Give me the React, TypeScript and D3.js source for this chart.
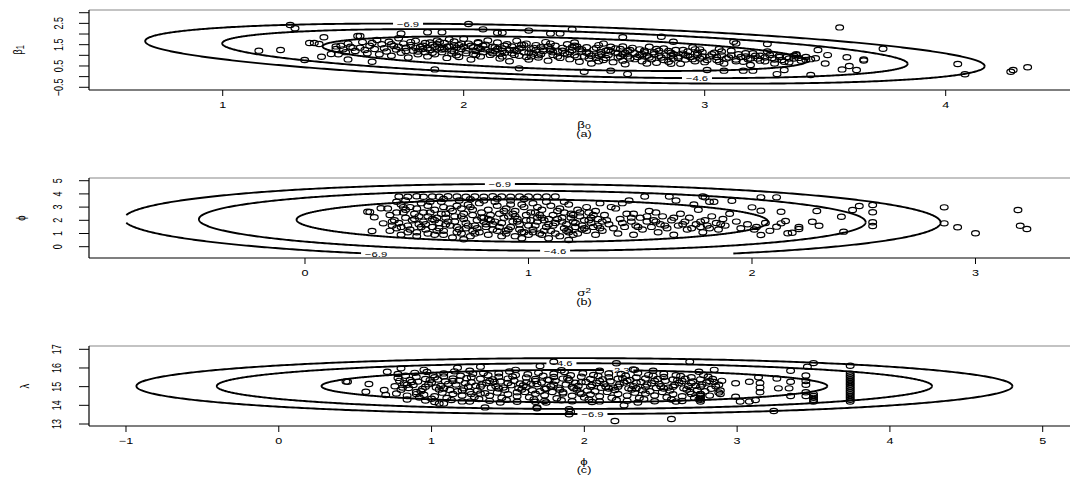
import React from 'react';
import * as d3 from 'd3';

type Pt = [number, number];

// ---------------- data ----------------
const ptsA: Pt[] = [
  [1.28,2.42],[1.30,2.27],[1.42,1.85],[1.15,1.22],[1.24,1.25],[1.34,0.78],[1.41,0.93],[1.45,1.06],[1.36,1.58],[1.38,1.58],[1.40,1.53],[1.52,0.81],[1.56,1.91],
  [2.02,2.47],[2.08,2.22],[2.27,2.16],[2.45,2.22],[1.88,0.34],[2.23,0.39],[2.50,0.23],[2.68,0.12],[2.61,0.28],[2.82,1.87],[1.62,0.70],
  [1.57,1.91],[1.74,2.03],[1.85,2.08],[1.91,2.08],[2.14,2.06],[2.16,2.06],[2.36,2.03],[2.40,2.03],[2.66,1.85],[2.87,1.64],
  [3.56,2.31],[3.74,1.31],[3.26,1.53],[3.47,1.25],[3.51,1.01],[3.59,0.91],[3.66,0.81],[3.66,0.76],[3.46,0.86],[3.50,0.62],[3.57,0.34],[3.60,0.50],[3.63,0.31],[3.44,0.08],[3.30,0.12],
  [4.05,0.59],[4.08,0.11],[4.27,0.23],[4.28,0.31],[4.34,0.44],[3.12,1.64],[3.13,1.56],[3.38,1.01],[3.42,0.78],[3.33,0.31],[3.16,0.28],[3.20,0.28],[3.01,0.31],[3.08,0.28],
  [1.47,1.30],[1.49,1.45],[1.51,1.15],[1.54,1.35],[1.48,1.05],
  [1.47,1.42],[1.50,1.28],[1.52,1.55],[1.55,1.20],[1.57,1.36],[1.58,1.62],[1.60,1.10],[1.61,1.45],[1.63,1.30],[1.64,1.72],[1.65,1.05],[1.66,1.52],[1.53,1.40],[1.59,1.25],[1.62,1.58],
  [1.67,1.33],[1.68,1.18],[1.69,1.64],[1.70,0.98],[1.71,1.44],[1.72,1.27],[1.73,1.80],[1.74,1.12],[1.75,1.55],[1.76,1.36],[1.77,0.90],[1.78,1.48],[1.79,1.22],[1.80,1.68],[1.81,1.05],[1.82,1.40],[1.83,1.30],[1.84,1.58],[1.85,0.95],[1.70,1.52],[1.76,1.20],[1.80,1.35],[1.84,1.15],[1.73,1.40],[1.78,1.62],
  [1.86,1.25],[1.87,1.50],[1.88,1.05],[1.89,1.70],[1.90,1.35],[1.91,1.15],[1.92,1.58],[1.93,0.88],[1.94,1.42],[1.95,1.22],[1.96,1.65],[1.97,1.00],[1.98,1.48],[1.99,1.30],[2.00,1.78],[2.01,1.10],[2.02,1.55],[2.03,0.80],[2.04,1.38],[2.05,1.20],[2.06,1.62],[2.07,0.95],[2.08,1.45],[2.09,1.28],[2.10,1.70],[1.88,1.40],[1.92,1.30],[1.96,1.18],[2.00,1.40],[2.04,1.05],[2.08,1.15],[1.90,1.62],[1.98,0.92],[2.06,1.35],[1.94,1.75],
  [2.11,1.02],[2.12,1.40],[2.13,1.22],[2.14,1.60],[2.15,0.85],[2.16,1.32],[2.17,1.12],[2.18,1.52],[2.19,0.72],[2.20,1.42],[2.21,1.25],[2.22,1.68],[2.23,0.98],[2.24,1.35],[2.25,1.15],[2.26,1.55],[2.27,0.80],[2.28,1.28],[2.29,1.08],[2.30,1.48],[2.31,0.90],[2.32,1.38],[2.33,1.20],[2.34,1.62],[2.35,0.75],[2.36,1.30],[2.37,1.02],[2.38,1.45],[2.39,1.18],[2.40,0.88],[2.12,1.10],[2.16,0.95],[2.20,1.10],[2.24,1.50],[2.28,0.95],[2.32,1.05],[2.36,1.55],[2.14,1.30],[2.22,1.20],[2.30,1.25],
  [2.41,1.35],[2.42,1.10],[2.43,1.52],[2.44,0.82],[2.45,1.25],[2.46,1.00],[2.47,1.42],[2.48,0.70],[2.49,1.18],[2.50,0.95],[2.51,1.38],[2.52,1.08],[2.53,0.62],[2.54,1.28],[2.55,0.88],[2.56,1.48],[2.57,1.15],[2.58,0.78],[2.59,1.22],[2.60,1.02],[2.61,1.40],[2.62,0.68],[2.63,1.12],[2.64,0.90],[2.65,1.30],[2.66,1.05],[2.67,0.58],[2.68,1.20],[2.69,0.85],[2.70,1.35],[2.44,1.15],[2.48,1.30],[2.52,0.85],[2.56,1.00],[2.60,1.25],[2.64,1.10],[2.68,0.95],[2.46,1.60],[2.58,1.55],[2.66,0.75],
  [2.71,1.10],[2.72,0.92],[2.73,1.28],[2.74,0.72],[2.75,1.15],[2.76,0.98],[2.77,1.40],[2.78,0.82],[2.79,1.05],[2.80,0.65],[2.81,1.22],[2.82,0.90],[2.83,1.32],[2.84,1.00],[2.85,0.70],[2.86,1.12],[2.87,0.85],[2.88,1.25],[2.89,0.95],[2.90,0.60],[2.91,1.08],[2.92,0.80],[2.93,1.18],[2.94,0.92],[2.95,1.38],[2.96,0.72],[2.97,1.02],[2.98,0.85],[2.99,1.15],[3.00,0.68],[2.74,1.05],[2.80,1.30],[2.86,0.98],[2.92,1.00],[2.98,1.28],
  [3.02,0.95],[3.04,1.12],[3.05,0.78],[3.07,1.00],[3.08,0.62],[3.10,0.90],[3.11,1.22],[3.13,0.80],[3.14,1.05],[3.16,0.70],[3.17,0.95],[3.19,0.55],[3.20,1.10],[3.22,0.85],[3.23,0.98],[3.25,0.72],[3.26,1.18],[3.28,0.88],[3.29,0.62],[3.31,1.00],[3.32,0.78],[3.34,0.92],[3.35,0.68],[3.37,0.85],[3.38,1.05],[3.40,0.75],[3.42,0.92],[3.44,0.82],[3.06,1.30],[3.18,0.82],
  [1.81,1.18],[1.83,1.45],[1.85,1.33],[1.87,1.12],[1.89,1.52],[1.91,1.27],[1.93,1.40],[1.95,1.08],[1.97,1.35],[1.99,1.55],[2.01,1.22],[2.03,1.45],[2.05,1.02],[2.07,1.30],[2.09,1.50],[2.11,1.18],[2.13,1.38],[2.15,1.08],[2.17,1.45],[2.19,1.25],[2.21,1.02],[2.23,1.32],[2.25,1.48],[2.27,1.12],[2.29,1.35],[2.31,1.00],[2.33,1.28],[2.35,1.42],[2.37,1.15],[2.39,0.95],
  [2.41,1.22],[2.43,1.05],[2.45,1.38],[2.47,0.92],[2.49,1.28],[2.51,1.12],[2.53,0.98],[2.55,1.35],[2.57,1.05],[2.59,0.88],[2.61,1.18],[2.63,1.32],[2.65,0.95],[2.67,1.12],[2.69,1.25],[2.71,0.82],[2.73,1.02],[2.75,1.22],[2.77,0.90],[2.79,1.15],[2.81,0.98],[2.83,0.78],[2.85,1.20],[2.87,1.05],[2.89,0.88],[2.91,1.25],[2.93,0.98],[2.95,0.82],[2.97,1.12],[2.99,0.95],
  [3.01,0.78],[3.03,1.05],[3.05,0.92],[3.07,1.18],[3.09,0.85],[3.11,1.00],[3.13,0.72],[3.15,0.92],[3.17,1.10],[3.19,0.85],[3.21,0.98],[3.23,0.75],[3.25,0.90],[3.27,1.02],[3.29,0.80],[3.31,0.92],[3.33,0.70],[3.35,0.85],[3.37,0.98],[3.39,0.88],
  [1.86,1.60],[1.96,1.48],[2.06,1.58],[2.16,1.20],[2.26,0.92],[2.36,1.22],[2.46,1.45],[2.56,0.72],[2.66,1.42],[2.76,0.62],[2.86,0.60],[2.96,1.28],[3.06,0.70]
];

const ptsB: Pt[] = [
  [0.42,3.80],[0.46,3.78],[0.50,3.82],[0.53,3.79],[0.57,3.81],[0.60,3.78],[0.64,3.82],[0.68,3.80],[0.72,3.79],[0.76,3.81],[0.80,3.78],[0.84,3.82],[0.88,3.80],[0.92,3.79],[0.96,3.81],[1.00,3.80],[1.04,3.78],[1.08,3.81],[1.12,3.80],[0.62,3.62],[0.74,3.60],[0.86,3.64],[0.98,3.61],
  [0.38,1.2],[0.40,2.0],[0.37,2.9],[0.39,1.6],[0.41,3.4],[0.38,2.4],
  [0.43,0.9],[0.42,1.8],[0.44,2.6],[0.43,3.2],[0.41,1.4],[0.45,2.2],
  [0.46,1.1],[0.48,2.0],[0.47,3.0],[0.46,1.6],[0.49,2.5],[0.45,3.5],
  [0.50,0.8],[0.52,1.5],[0.51,2.3],[0.50,2.9],[0.53,1.9],[0.52,3.3],
  [0.55,1.0],[0.54,1.7],[0.56,2.6],[0.55,3.1],[0.57,2.1],[0.54,1.3],
  [0.58,0.9],[0.60,1.4],[0.59,2.2],[0.58,2.8],[0.61,3.4],[0.60,1.8],
  [0.62,1.2],[0.64,1.9],[0.63,2.5],[0.62,3.0],[0.65,1.6],[0.63,2.2],
  [0.66,0.7],[0.68,1.5],[0.67,2.3],[0.66,2.7],[0.69,3.5],[0.68,1.1],
  [0.70,1.0],[0.72,1.8],[0.71,2.1],[0.70,2.9],[0.73,3.2],[0.72,1.4],
  [0.74,0.8],[0.76,1.6],[0.75,2.4],[0.74,3.0],[0.77,2.0],[0.75,1.2],
  [0.78,1.1],[0.80,1.9],[0.79,2.6],[0.78,3.3],[0.81,1.5],[0.80,2.2],
  [0.82,0.9],[0.84,1.3],[0.83,2.0],[0.82,2.8],[0.85,3.4],[0.84,1.7],
  [0.86,1.2],[0.88,1.8],[0.87,2.5],[0.86,3.1],[0.89,2.2],[0.88,0.8],
  [0.90,1.0],[0.92,1.5],[0.91,2.3],[0.90,2.9],[0.93,1.9],[0.92,3.5],
  [0.94,0.8],[0.96,1.7],[0.95,2.1],[0.94,2.7],[0.97,3.2],[0.96,1.3],
  [0.98,1.1],[1.00,1.6],[0.99,2.4],[0.98,3.0],[1.01,2.0],[1.00,0.9],
  [1.02,1.3],[1.04,1.9],[1.03,2.6],[1.02,3.3],[1.05,1.0],[1.04,2.2],
  [1.06,0.9],[1.08,1.5],[1.07,2.0],[1.06,2.8],[1.09,1.7],[1.08,3.4],
  [1.10,1.2],[1.12,1.8],[1.11,2.4],[1.10,3.1],[1.13,2.1],[1.12,1.0],
  [1.14,0.8],[1.16,1.4],[1.15,2.2],[1.14,2.9],[1.17,1.7],[1.16,2.6],
  [1.18,1.1],[1.20,1.9],[1.19,2.5],[1.18,3.2],[1.21,1.5],[1.20,0.9],
  [1.22,1.0],[1.24,1.6],[1.23,2.3],[1.22,2.8],[1.25,2.0],[1.24,1.3],
  [1.26,1.2],[1.28,1.8],[1.27,2.6],[1.26,3.0],[1.29,1.5],[1.28,2.2],
  [1.30,0.9],[1.32,1.4],[1.31,2.1],[1.30,2.7],[1.33,1.9],[1.32,3.3],
  [0.39,1.9],[0.41,2.6],[0.43,1.5],[0.45,2.8],[0.47,1.3],[0.49,2.1],[0.51,1.7],[0.53,2.6],[0.55,2.3],[0.57,1.5],[0.59,1.2],[0.61,2.5],[0.63,1.7],[0.65,2.9],[0.67,1.9],[0.69,1.3],[0.71,2.5],[0.73,1.6],[0.75,2.8],[0.77,1.4],
  [0.79,2.2],[0.81,1.7],[0.83,2.4],[0.85,1.9],[0.87,1.5],[0.89,2.7],[0.91,1.3],[0.93,2.5],[0.95,1.9],[0.97,1.1],[0.99,2.0],[1.01,2.6],[1.03,1.6],[1.05,2.4],[1.07,1.2],[1.09,2.1],[1.11,1.6],[1.13,2.7],[1.15,1.9],[1.17,1.2],
  [1.19,2.2],[1.21,1.8],[1.23,2.6],[1.25,1.4],[1.27,2.0],[1.29,2.4],[1.31,1.6],[0.44,3.0],[0.56,3.4],[0.68,3.1],[0.80,3.5],[0.92,3.2],[1.04,3.0],[1.16,3.4],[0.50,1.1],[0.62,0.9],[0.76,1.0],[0.90,1.2],[1.02,1.1],[1.18,1.3],
  [0.58,2.0],[0.70,2.3],[0.82,2.1],[0.94,2.3],[1.06,2.2],[1.20,2.4],[1.35,2.0],[1.38,1.4],[1.42,1.8],[1.46,2.2],[1.49,1.5],[1.53,2.3],[1.57,1.9],[1.61,1.6],[1.65,2.2],[1.69,1.7],[1.73,1.4],[1.77,1.9],[1.81,1.4],[1.86,1.7],
  [1.33,1.2],[1.34,2.4],[1.36,1.7],[1.37,3.0],[1.39,2.9],[1.40,1.0],[1.41,2.1],[1.42,3.3],[1.43,1.5],[1.44,2.5],[1.45,3.5],[1.46,1.9],[1.47,2.5],[1.47,0.9],[1.48,1.6],[1.50,2.2],[1.51,1.3],[1.52,3.8],[1.53,1.9],[1.54,2.7],[1.55,1.5],[1.56,2.0],[1.57,2.6],[1.58,1.1],[1.59,1.7],[1.60,2.3],[1.62,1.4],[1.63,3.8],[1.64,2.0],[1.65,0.9],[1.66,3.5],[1.67,1.6],[1.68,2.5],[1.70,1.9],[1.71,1.3],[1.72,2.2],[1.74,3.2],[1.75,1.7],[1.76,2.8],[1.77,1.5],[1.78,1.1],[1.78,3.8],[1.79,2.0],[1.80,1.6],[1.81,3.4],[1.82,2.3],[1.84,1.8],[1.85,1.3],[1.87,2.1],[1.88,1.6],[1.90,2.5],
  [1.91,3.48],[1.93,1.9],[1.95,1.4],[1.98,1.7],[2.00,2.98],[2.01,1.3],[2.02,1.5],[2.04,3.74],[2.04,2.73],[2.04,0.89],[2.06,1.8],[2.08,1.2],[2.11,3.74],[2.11,1.52],[2.13,2.65],[2.13,1.77],[2.15,1.95],[2.16,1.02],[2.18,1.06],[2.21,1.49],[2.21,1.34],[2.27,1.89],[2.29,2.7],[2.30,1.59],[2.40,2.27],[2.41,1.14],[2.45,2.78],[2.48,3.08],[2.54,3.16],[2.54,2.61],[2.54,1.85],[2.54,1.57],[1.79,3.74],[1.83,3.41],
  [2.86,2.98],[2.86,1.77],[2.92,1.47],[3.00,1.02],[3.19,2.78],[3.20,1.59],[3.23,1.34],
  [0.28,2.65],[0.29,2.63],[0.34,2.91],[0.31,2.23],[0.30,1.19],[0.35,1.77],[0.71,0.56],[0.97,0.64],[1.09,0.64],[1.18,0.51]
];

const ptsC: Pt[] = [
  [0.76,15.02],[0.78,15.47],[0.77,14.63],[0.79,15.31],[0.80,14.84],[0.78,15.68],
  [0.82,15.18],[0.84,14.52],[0.83,15.58],[0.85,14.93],[0.86,15.36],[0.84,14.31],
  [0.88,15.09],[0.90,14.71],[0.89,15.74],[0.91,15.27],[0.92,14.42],[0.90,15.52],
  [0.94,14.88],[0.96,15.41],[0.95,14.57],[0.97,15.79],[0.98,15.13],[0.96,14.26],
  [1.00,15.22],[1.02,14.49],[1.01,15.63],[1.03,14.96],[1.04,15.38],[1.02,14.18],
  [1.06,15.04],[1.08,15.71],[1.07,14.68],[1.09,15.29],[1.10,14.39],[1.08,15.55],
  [1.12,14.82],[1.14,15.44],[1.13,14.28],[1.15,15.82],[1.16,15.11],[1.14,14.61],
  [1.18,15.33],[1.20,14.53],[1.19,15.59],[1.21,14.91],[1.22,15.19],[1.20,14.21],
  [1.24,15.01],[1.26,15.51],[1.25,14.73],[1.27,15.69],[1.28,14.44],[1.26,15.24],
  [1.30,14.79],[1.32,15.42],[1.31,14.34],[1.33,15.12],[1.34,15.73],[1.32,14.64],
  [1.36,15.21],[1.38,14.51],[1.37,15.61],[1.39,14.94],[1.40,15.39],[1.38,14.24],
  [1.42,15.03],[1.44,15.72],[1.43,14.69],[1.45,15.28],[1.46,14.41],[1.44,15.53],
  [1.48,14.83],[1.50,15.43],[1.49,14.29],[1.51,15.81],[1.52,15.08],[1.50,14.59],
  [1.54,15.32],[1.56,14.48],[1.55,15.62],[1.57,14.92],[1.58,15.17],[1.56,14.19],
  [1.60,15.06],[1.62,15.49],[1.61,14.72],[1.63,15.67],[1.64,14.43],[1.62,15.23],
  [1.66,14.81],[1.68,15.41],[1.67,14.32],[1.69,15.14],[1.70,15.74],[1.68,14.62],
  [1.72,15.22],[1.74,14.54],[1.73,15.58],[1.75,14.89],[1.76,15.37],[1.74,14.23],
  [1.78,15.02],[1.80,15.69],[1.79,14.71],[1.81,15.31],[1.82,14.38],[1.80,15.52],
  [1.84,14.84],[1.86,15.43],[1.85,14.27],[1.87,15.78],[1.88,15.12],[1.86,14.63],
  [1.90,15.34],[1.92,14.51],[1.91,15.61],[1.93,14.92],[1.94,15.21],[1.92,14.22],
  [1.96,15.04],[1.98,15.53],[1.97,14.69],[1.99,15.72],[2.00,14.42],[1.98,15.24],
  [2.02,14.79],[2.04,15.41],[2.03,14.31],[2.05,15.09],[2.06,15.63],[2.04,14.58],
  [2.08,15.19],[2.10,14.49],[2.09,15.57],[2.11,14.94],[2.12,15.39],[2.10,14.21],
  [2.14,15.01],[2.16,15.71],[2.15,14.72],[2.17,15.29],[2.18,14.41],[2.16,15.51],
  [2.20,14.82],[2.22,15.42],[2.21,14.29],[2.23,15.13],[2.24,15.68],[2.22,14.61],
  [2.26,15.22],[2.28,14.52],[2.27,15.59],[2.29,14.91],[2.30,15.36],[2.28,14.24],
  [2.32,15.03],[2.34,15.49],[2.33,14.68],[2.35,15.73],[2.36,14.39],[2.34,15.21],
  [2.38,14.81],[2.40,15.44],[2.39,14.33],[2.41,15.11],[2.42,15.62],[2.40,14.64],
  [2.44,15.18],[2.46,14.53],[2.45,15.58],[2.47,14.93],[2.48,15.41],[2.46,14.22],
  [2.50,15.02],[2.52,15.69],[2.51,14.71],[2.53,15.32],[2.54,14.43],[2.52,15.52],
  [2.56,14.79],[2.58,15.38],[2.57,14.31],[2.59,15.09],[2.60,15.61],[2.58,14.59],
  [2.62,15.21],[2.64,14.49],[2.63,15.57],[2.65,14.91],[2.66,15.42],[2.64,14.23],
  [2.68,15.04],[2.70,15.51],[2.69,14.72],[2.71,15.28],[2.72,14.41],[2.70,15.19],
  [2.74,14.82],[2.76,15.39],[2.75,14.33],[2.77,15.12],[2.78,15.62],[2.76,14.61],
  [2.80,15.22],[2.82,14.52],[2.81,15.53],[2.83,14.89],[2.84,15.41],[2.86,15.02],
  [2.88,14.69],[2.90,15.31],
  [0.81,14.95],[0.87,15.25],[0.93,14.75],[0.99,15.35],[1.05,14.85],[1.11,15.15],[1.17,14.75],[1.23,15.45],[1.29,15.05],[1.35,14.65],[1.41,15.25],[1.47,14.95],[1.53,15.55],[1.59,14.85],[1.65,15.15],[1.71,14.75],[1.77,15.35],[1.83,14.95],[1.89,15.45],[1.95,14.85],
  [2.01,15.25],[2.07,14.75],[2.13,15.15],[2.19,14.95],[2.25,15.45],[2.31,14.85],[2.37,15.25],[2.43,14.75],[2.49,15.15],[2.55,14.95],[2.61,15.35],[2.67,14.85],[2.73,15.05],[2.79,14.75],[2.85,15.25],
  [0.84,15.10],[0.90,14.60],[0.96,15.00],[1.02,15.50],[1.08,14.90],[1.14,15.30],[1.20,14.80],[1.26,14.60],[1.32,15.00],[1.38,15.30],[1.44,14.90],[1.50,15.20],[1.56,14.70],[1.62,15.00],[1.68,15.30],[1.74,14.90],[1.80,15.10],[1.86,14.70],[1.92,15.00],[1.98,14.60],
  [2.04,15.00],[2.10,15.30],[2.16,14.90],[2.22,15.00],[2.28,15.30],[2.34,14.90],[2.40,15.00],[2.46,15.30],[2.52,14.90],[2.58,15.00],[2.64,15.30],[2.70,14.60],[2.76,15.00],[2.82,15.30],[2.88,15.10],
  [1.00,14.35],[1.25,14.20],[1.45,14.15],[1.75,14.15],[2.05,14.18],[2.35,14.15],[2.60,14.20],[0.95,15.90],[1.25,15.85],[1.55,15.90],[1.85,15.88],[2.10,15.85],[2.45,15.85],[2.75,15.80],
  [0.45,15.26],[0.44,15.28],[0.59,15.14],[0.57,14.73],[0.69,14.82],[0.71,15.80],[0.80,15.98],[0.70,14.55],[1.17,16.01],[1.32,16.07],[1.35,13.89],[1.69,13.89],[1.90,13.79],[1.91,13.66],[1.90,13.52],[2.20,13.16],[2.57,13.27],[2.21,16.25],[2.69,16.33],[1.80,16.33],[1.71,16.10],[2.32,15.92],[2.33,15.90],[1.68,14.19],[1.69,13.84],[1.05,14.10],[1.08,14.10],[2.26,14.00],
  [2.85,15.90],[2.89,14.80],[2.89,14.60],[2.99,15.18],[3.08,15.26],[3.14,15.50],[2.99,14.46],[3.26,15.44],[3.27,14.91],[3.34,14.91],[3.35,15.26],[3.35,14.50],[3.35,15.85],[3.24,13.70],[3.02,14.20],[3.08,14.20],[3.12,14.28],[3.15,15.20],[3.15,14.95],[3.15,14.70],[3.45,15.60],[3.45,15.30],[3.45,15.10],[3.45,14.70],[3.45,14.50],[3.50,16.26],[3.46,16.07],[3.74,16.12],
  [3.74,14.2],[3.74,14.3],[3.74,14.4],[3.74,14.5],[3.74,14.6],[3.74,14.7],[3.74,14.8],[3.74,14.9],[3.74,15.0],[3.74,15.1],[3.74,15.2],[3.74,15.3],[3.74,15.4],[3.74,15.5],[3.74,15.6],[3.74,15.7],
  [3.50,14.2],[3.50,14.3],[3.50,14.4],[3.50,14.5],[3.50,14.6],
  [2.76,14.2],[2.76,14.3],[2.76,14.4],[2.76,14.5],[2.76,14.6]
];

// contour levels (log density) and the normal approximations they come from
const contourLevels = [-2.3, -4.6, -6.9];
const meanA: Pt = [2.42, 1.08];
const covA = [0.2198, -0.0741, 0.144];
const meanB: Pt = [1.017, 1.97];
const covB = [0.2418, -0.018, 0.56];
const meanC: Pt = [1.935, 15.03];
const covC = [0.5955, 0, 0.1624];
// contour grid limits [xmin, xmax, ymin, ymax]
const gridA = [0.0, 5.0, -1.0, 4.0];
const gridB = [-0.8, 4.0, -0.52, 6.0];
const gridC = [-1.2, 5.2, 12.5, 17.5];

const xTicksA = [1, 2, 3, 4];
const yTicksA = [-0.5, 0, 0.5, 1, 1.5, 2, 2.5, 3];
const yLabelsA = [-0.5, 0.5, 1.5, 2.5];
const xTicksB = [0, 1, 2, 3];
const yTicksB = [0, 1, 2, 3, 4, 5];
const yLabelsB = [0, 1, 2, 3, 4, 5];
const xTicksC = [-1, 0, 1, 2, 3, 4, 5];
const yTicksC = [13, 14, 15, 16, 17];
const yLabelsC = [13, 14, 15, 16, 17];

type CLabel = { level: number; x: number; side: 'top' | 'bottom' };
const labelsA: CLabel[] = [{ level: -6.9, x: 1.769, side: 'top' }, { level: -4.6, x: 2.968, side: 'bottom' }];
const labelsB: CLabel[] = [{ level: -6.9, x: 0.872, side: 'top' }, { level: -6.9, x: 0.318, side: 'bottom' }, { level: -4.6, x: 1.119, side: 'bottom' }];
const labelsC: CLabel[] = [{ level: -4.6, x: 1.85, side: 'top' }, { level: -2.3, x: 2.223, side: 'top' }, { level: -6.9, x: 2.053, side: 'bottom' }];

// ---------------- helpers ----------------
const FONT = 'Liberation Sans, Arial, Helvetica, sans-serif';
const SX = 1.4;
const LEFT = 89;
const RIGHT = 1072;

function fmt(v: number) {
  return v < 0 ? '\u2212' + String(Math.abs(v)) : String(v);
}

function ellipseSegments(mean: Pt, cov: number[], level: number, grid: number[]): Pt[][] {
  const [sxx, sxy, syy] = cov;
  const r = Math.sqrt(-2 * level);
  const a = Math.sqrt(sxx);
  const b = sxy / a;
  const c = Math.sqrt(syy - b * b);
  const N = 720;
  const pts: Pt[] = d3.range(N).map((i) => {
    const t = (2 * Math.PI * i) / N;
    const u = Math.cos(t), v = Math.sin(t);
    return [mean[0] + r * a * u, mean[1] + r * (b * u + c * v)] as Pt;
  });
  const inside = (p: Pt) => p[0] >= grid[0] && p[0] <= grid[1] && p[1] >= grid[2] && p[1] <= grid[3];
  const start = pts.findIndex((p) => !inside(p));
  if (start < 0) return [[...pts, pts[0]]];
  const segs: Pt[][] = [];
  let cur: Pt[] = [];
  for (let k = 0; k <= N; k++) {
    const p = pts[(start + k) % N];
    if (inside(p)) cur.push(p);
    else {
      if (cur.length > 1) segs.push(cur);
      cur = [];
    }
  }
  if (cur.length > 1) segs.push(cur);
  return segs;
}

function contourY(mean: Pt, cov: number[], level: number, x: number, side: 'top' | 'bottom') {
  const [sxx, sxy, syy] = cov;
  const m2 = -2 * level;
  const det = sxx * syy - sxy * sxy;
  const dx = x - mean[0];
  const disc = sxy * sxy * dx * dx - sxx * (syy * dx * dx - m2 * det);
  const s = Math.sqrt(Math.max(disc, 0));
  const dy = side === 'top' ? (sxy * dx + s) / sxx : (sxy * dx - s) / sxx;
  return mean[1] + dy;
}

function T(props: { x: number; y: number; fs: number; rot?: boolean; children: React.ReactNode; fill?: string }) {
  const { x, y, fs, rot, children, fill } = props;
  const tf = rot ? `translate(${x},${y}) scale(${SX},1) rotate(-90)` : `translate(${x},${y}) scale(${SX},1)`;
  return (
    <text transform={tf} y={fs * 0.36} fontSize={fs} textAnchor="middle" fontFamily={FONT} fill={fill || '#000'}>
      {children}
    </text>
  );
}

type PanelCfg = {
  id: string;
  pts: Pt[];
  mean: Pt;
  cov: number[];
  grid: number[];
  top: number;
  bottom: number;
  xDomain: [number, number];
  yDomain: [number, number];
  xTicks: number[];
  yTicks: number[];
  yLabels: number[];
  labels: CLabel[];
  tickLabelY: number;
  xTitle: React.ReactNode;
  xTitleY: number;
  sub: string;
  subY: number;
  yTitle: React.ReactNode;
  yTitleX: number;
  yLabelX: number;
};

function Panel({ cfg }: { cfg: PanelCfg }) {
  const xs = d3.scaleLinear().domain(cfg.xDomain).range([LEFT, RIGHT]);
  const ys = d3.scaleLinear().domain(cfg.yDomain).range([cfg.bottom, cfg.top]);
  const line = d3.line<Pt>().x((d) => xs(d[0])).y((d) => ys(d[1]));
  const midY = (cfg.top + cfg.bottom) / 2;
  const LW = 30, LH = 9;
  return (
    <g>
      <defs>
        {contourLevels.map((lv, li) => (
          <mask key={li} id={`m-${cfg.id}-${li}`} maskUnits="userSpaceOnUse" x={0} y={0} width={1070} height={477}>
            <rect x={0} y={0} width={1070} height={477} fill="#fff" />
            {cfg.labels.filter((l) => l.level === lv).map((l, k) => {
              const px = xs(l.x), py = ys(contourY(cfg.mean, cfg.cov, l.level, l.x, l.side));
              return <rect key={k} x={px - LW / 2} y={py - LH / 2} width={LW} height={LH} fill="#000" />;
            })}
          </mask>
        ))}
        <clipPath id={`clip-${cfg.id}`}>
          <rect x={LEFT} y={cfg.top} width={RIGHT - LEFT} height={cfg.bottom - cfg.top} />
        </clipPath>
      </defs>
      <g clipPath={`url(#clip-${cfg.id})`}>
        {cfg.pts.map((p, i) => (
          <ellipse key={i} cx={xs(p[0])} cy={ys(p[1])} rx={3.9} ry={2.6} fill="none" stroke="#000" strokeWidth={1.2} />
        ))}
        {contourLevels.map((lv, li) => (
          <g key={li} mask={`url(#m-${cfg.id}-${li})`}>
            {ellipseSegments(cfg.mean, cfg.cov, lv, cfg.grid).map((seg, si) => (
              <path key={si} d={line(seg) || ''} fill="none" stroke="#000" strokeWidth={1.9} />
            ))}
          </g>
        ))}
      </g>
      {cfg.labels.map((l, k) => {
        const px = xs(l.x), py = ys(contourY(cfg.mean, cfg.cov, l.level, l.x, l.side));
        return (
          <T key={k} x={px} y={py} fs={8}>
            {fmt(l.level)}
          </T>
        );
      })}
      <line x1={LEFT} x2={RIGHT} y1={cfg.top} y2={cfg.top} stroke="#888" strokeWidth={1.2} />
      <line x1={LEFT} x2={RIGHT} y1={cfg.bottom} y2={cfg.bottom} stroke="#000" strokeWidth={1.2} />
      <line x1={LEFT} x2={LEFT} y1={cfg.top} y2={cfg.bottom} stroke="#000" strokeWidth={1.2} />
      {cfg.xTicks.map((t) => (
        <g key={t}>
          <line x1={xs(t)} x2={xs(t)} y1={cfg.bottom} y2={cfg.bottom + 6} stroke="#000" strokeWidth={1} />
          <T x={xs(t)} y={cfg.tickLabelY} fs={9}>
            {fmt(t)}
          </T>
        </g>
      ))}
      {cfg.yTicks.map((t) => (
        <line key={t} x1={LEFT - 10} x2={LEFT} y1={ys(t)} y2={ys(t)} stroke="#000" strokeWidth={1} />
      ))}
      {cfg.yLabels.map((t) => (
        <T key={t} x={cfg.yLabelX} y={ys(t)} fs={9} rot>
          {fmt(t)}
        </T>
      ))}
      <T x={584} y={cfg.xTitleY} fs={9.5}>
        {cfg.xTitle}
      </T>
      <T x={584} y={cfg.subY} fs={9}>
        {cfg.sub}
      </T>
      <T x={cfg.yTitleX} y={midY} fs={9.5} rot>
        {cfg.yTitle}
      </T>
    </g>
  );
}

const panels: PanelCfg[] = [
  {
    id: 'a', pts: ptsA, mean: meanA, cov: covA, grid: gridA, top: 10, bottom: 90,
    xDomain: [0.4452, 4.5241], yDomain: [-0.627, 3.127],
    xTicks: xTicksA, yTicks: yTicksA, yLabels: yLabelsA, labels: labelsA,
    tickLabelY: 105,
    xTitle: <>β<tspan fontSize={7.5} dy={1.5}>0</tspan></>, xTitleY: 124.5,
    sub: '(a)', subY: 134,
    yTitle: <>β<tspan fontSize={7.5} dy={1.5}>1</tspan></>, yTitleX: 17, yLabelX: 58,
  },
  {
    id: 'b', pts: ptsB, mean: meanB, cov: covB, grid: gridB, top: 178, bottom: 258,
    xDomain: [-0.9664, 3.4318], yDomain: [-0.856, 5.205],
    xTicks: xTicksB, yTicks: yTicksB, yLabels: yLabelsB, labels: labelsB,
    tickLabelY: 273,
    xTitle: <>σ<tspan fontSize={7} dy={-3.5}>2</tspan></>, xTitleY: 293,
    sub: '(b)', subY: 301.7,
    yTitle: <>ϕ</>, yTitleX: 20, yLabelX: 57,
  },
  {
    id: 'c', pts: ptsC, mean: meanC, cov: covC, grid: gridC, top: 346, bottom: 426,
    xDomain: [-1.2421, 5.1918], yDomain: [12.893, 17.177],
    xTicks: xTicksC, yTicks: yTicksC, yLabels: yLabelsC, labels: labelsC,
    tickLabelY: 440.7,
    xTitle: <>ϕ</>, xTitleY: 461.5,
    sub: '(c)', subY: 469.5,
    yTitle: <>λ</>, yTitleX: 24, yLabelX: 56,
  },
];

export default function App() {
  return (
    <svg width={1070} height={477} style={{ position: 'absolute', left: 0, top: 0, background: '#fff' }}>
      <rect x={0} y={0} width={1070} height={477} fill="#fff" />
      {panels.map((p) => (
        <Panel key={p.id} cfg={p} />
      ))}
    </svg>
  );
}
